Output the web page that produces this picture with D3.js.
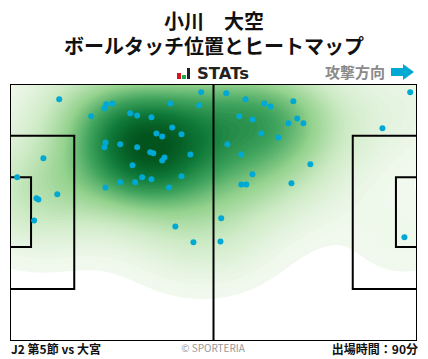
<!DOCTYPE html>
<html>
<head>
<meta charset="utf-8">
<script src="https://cdn.jsdelivr.net/npm/d3@7"></script>
<style>
  html, body { margin: 0; padding: 0; background: #fff; }
  text { font-family: "Noto Sans CJK JP", "Noto Sans", sans-serif; }
</style>
</head>
<body>
<div class="box"></div>
<script>
// DATA
const titleLines = ['小川　大空', 'ボールタッチ位置とヒートマップ'];
const matchLabel = 'J2 第5節 vs 大宮';
const minutesLabel = '出場時間：90分';
const creditLabel = '© SPORTERIA';
const directionLabel = '攻撃方向';
const logoLabel = 'STATs';

// ball touches, in metres on a 105 x 68 pitch
const touchX = [12.5, 49.3, 48.8, 41.3, 26.3, 24.7, 24.2, 20.8, 30.9, 32.7, 36.4, 41.8, 37.7, 39.2, 44.2, 24.5,
  24.2, 28.3, 32.7, 36.1, 36.9, 39.8, 39.2, 46.5, 31.5, 44.2, 34.0, 36.4, 28.3, 32.2, 24.5, 41.0,
  8.4, 1.6, 12.0, 6.6, 7.1, 6.0, 42.6, 47.3, 103.5, 55.8, 60.8, 65.7, 67.3, 73.2, 59.2, 62.6,
  74.2, 71.9, 75.8, 96.3, 64.9, 69.3, 56.1, 59.7, 77.6, 62.6, 59.7, 61.0, 72.7, 54.5, 54.3, 102.0];
const touchY = [3.8, 1.9, 5.4, 4.9, 4.9, 5.1, 6.2, 8.3, 7.5, 8.1, 8.6, 11.3, 12.9, 13.7, 13.1, 15.3,
  16.6, 15.8, 16.6, 17.9, 18.2, 19.3, 20.1, 18.5, 21.4, 24.3, 24.6, 25.1, 25.9, 25.9, 27.3, 27.3,
  19.5, 24.6, 29.1, 30.2, 30.5, 36.1, 37.7, 41.9, 1.9, 2.2, 3.8, 4.9, 5.7, 4.3, 8.3, 9.2,
  8.9, 10.2, 10.2, 11.5, 12.9, 14.0, 15.8, 18.5, 21.1, 23.8, 26.5, 26.5, 26.2, 35.5, 41.7, 40.6];

// pitch markings: [x0, x1, y0, y1] in metres
const boxLines = [
  [0, 16.4, 13.5, 54.4],
  [0, 5.2, 24.6, 43.2],
  [105, 88.6, 13.5, 54.4],
  [105, 99.8, 24.6, 43.2]
];

// heat colours, low to high, with the share of the peak density where each applies
const heatStops = ['#f1f9ee', '#cdeac5', '#94d28e', '#3fa35c', '#0f7a3a', '#004d18'];
const heatShares = [0.03, 0.22, 0.42, 0.62, 0.8, 1];

// SETUP
const width = 428, height = 359;
const svg = d3.select('.box').append('svg')
  .attr('width', width)
  .attr('height', height)
  .style('display', 'block');

const pitch = {left: 11, right: 416, top: 85, bottom: 340};
const x = d3.scaleLinear().domain([0, 105]).range([pitch.left, pitch.right]);
const y = d3.scaleLinear().domain([0, 68]).range([pitch.top, pitch.bottom]);

// HEAT MAP: gaussian density of the touches on a grid
const gridW = 135, gridH = 86;
const bwX = 11.5, bwY = 9;
const density = new Array(gridW * gridH).fill(0);
for (let j = 0; j < gridH; j++) {
  for (let i = 0; i < gridW; i++) {
    const gx = i / (gridW - 1) * 105;
    const gy = j / (gridH - 1) * 68;
    let sum = 0;
    touchX.forEach((tx, k) => {
      const dx = (gx - tx) / bwX, dy = (gy - touchY[k]) / bwY;
      sum += Math.exp(-0.5 * (dx * dx + dy * dy));
    });
    density[j * gridW + i] = sum;
  }
}

const maxDensity = d3.max(density);
const levels = d3.range(0, 60).map(i => maxDensity * (0.03 + i / 60 * 0.96));
const color = d3.scaleLinear()
  .domain(heatShares.map(s => s * maxDensity))
  .range(heatStops);

svg.append('clipPath').attr('id', 'pitch-clip').append('rect')
  .attr('x', pitch.left).attr('y', pitch.top)
  .attr('width', pitch.right - pitch.left).attr('height', pitch.bottom - pitch.top);

const gridPath = d3.geoPath(d3.geoTransform({
  point(px, py) {
    this.stream.point(x((px - 0.5) / (gridW - 1) * 105), y((py - 0.5) / (gridH - 1) * 68));
  }
}));

svg.append('g')
  .attr('clip-path', 'url(#pitch-clip)')
  .selectAll('path')
  .data(d3.contours().size([gridW, gridH]).thresholds(levels)(density))
  .join('path')
  .attr('d', gridPath)
  .attr('fill', d => color(d.value));

// PITCH
const lines = svg.append('g').attr('fill', 'none').attr('stroke', '#000').attr('stroke-width', 2);
boxLines.forEach(b => {
  lines.append('path').attr('d', `M${x(b[0])},${y(b[2])}H${x(b[1])}V${y(b[3])}H${x(b[0])}`);
});
lines.append('line').attr('x1', x(52.5)).attr('x2', x(52.5)).attr('y1', y(0)).attr('y2', y(68));
svg.append('rect')
  .attr('x', pitch.left - 0.5).attr('y', pitch.top - 0.5)
  .attr('width', pitch.right - pitch.left + 1).attr('height', pitch.bottom - pitch.top + 1)
  .attr('fill', 'none').attr('stroke', '#000').attr('stroke-width', 1);

// TOUCHES
svg.append('g').selectAll('circle')
  .data(touchX)
  .join('circle')
  .attr('cx', d => x(d))
  .attr('cy', (d, i) => y(touchY[i]))
  .attr('r', 3)
  .attr('fill', '#00a9d4');

// TEXT
svg.selectAll('.title').data(titleLines).join('text')
  .attr('class', 'title')
  .attr('x', 214)
  .attr('y', (d, i) => 29 + i * 24.5)
  .attr('text-anchor', 'middle')
  .attr('font-size', 20)
  .attr('font-weight', 700)
  .attr('fill', '#111')
  .text(d => d);

svg.append('text').attr('x', 197).attr('y', 79)
  .style('font-family', '"DejaVu Sans", sans-serif').attr('font-size', 15).attr('font-weight', 700)
  .attr('fill', '#222').attr('textLength', 52).attr('lengthAdjust', 'spacingAndGlyphs').text(logoLabel);

// logo bars
[[177, 73, 4, 6, '#d9141e'], [182, 75, 4, 4, '#1fa84a'], [187, 68, 3, 11, '#222']].forEach(r => {
  svg.append('rect').attr('x', r[0]).attr('y', r[1]).attr('width', r[2]).attr('height', r[3]).attr('fill', r[4]);
});

svg.append('text').attr('x', 385).attr('y', 78)
  .attr('text-anchor', 'end').attr('font-size', 15).attr('font-weight', 700)
  .attr('fill', '#8a8a8a').text(directionLabel);

svg.append('path')
  .attr('d', 'M391,68H403V64L414,72L403,80V76H391Z')
  .attr('fill', '#00a9d4');

svg.append('text').attr('x', 11).attr('y', 354)
  .attr('font-size', 12).attr('font-weight', 700).attr('fill', '#111').text(matchLabel);
svg.append('text').attr('x', 213).attr('y', 352)
  .attr('text-anchor', 'middle').attr('font-size', 10).attr('fill', '#999').text(creditLabel);
svg.append('text').attr('x', 418).attr('y', 354)
  .attr('text-anchor', 'end').attr('font-size', 12).attr('font-weight', 700).attr('fill', '#111').text(minutesLabel);
</script>
</body>
</html>
